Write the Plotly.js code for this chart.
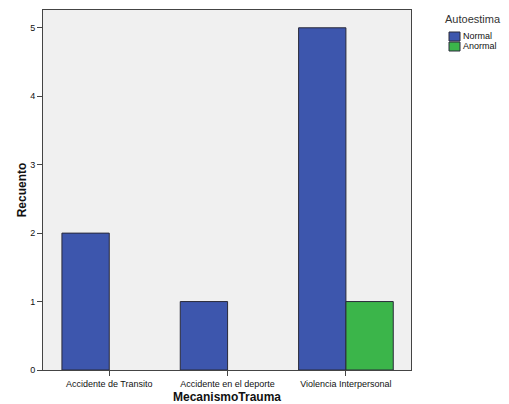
<!DOCTYPE html>
<html>
<head>
<meta charset="utf-8">
<script src="https://cdn.plot.ly/plotly-3.0.1.min.js"></script>
<style>html,body{margin:0;padding:0;background:#fff;}#chart{width:509px;height:404px;}</style>
</head>
<body>
<div id="chart"></div>
<script>
const categories = ["Accidente de Transito", "Accidente en el deporte", "Violencia Interpersonal"];
const normalValues = [2, 1, 5];
const anormalValues = [0, 0, 1];
const seriesNames = ["Normal", "Anormal"];
const seriesColors = ["#3d56ad", "#3bb54a"];
const legendTitle = "Autoestima";
const yTicks = [0, 1, 2, 3, 4, 5];

// zero counts draw no bar (as in the reference)
const noZero = v => (v === 0 ? null : v);

const traces = [
  {type: "bar", name: seriesNames[0], x: categories, y: normalValues.map(noZero),
   marker: {color: seriesColors[0], line: {color: "#2a2a3a", width: 1}}},
  {type: "bar", name: seriesNames[1], x: categories, y: anormalValues.map(noZero),
   marker: {color: seriesColors[1], line: {color: "#2a2a3a", width: 1}}}
];

// custom legend in paper/pixel terms (placed in the right margin)
const W = 509, H = 404, mL = 43, mR = 98, mT = 10, mB = 34;
const pw = W - mL - mR, ph = H - mT - mB;
const px = x => (x - mL) / pw;
const py = y => 1 - (y - mT) / ph;

const shapes = [];
const annotations = [
  {xref: "paper", yref: "paper", x: px(473), y: py(19), xanchor: "center", yanchor: "middle",
   text: legendTitle, showarrow: false, font: {size: 11, color: "#333"}}
];
seriesNames.forEach((n, i) => {
  const top = 32 + i * 10;
  shapes.push({type: "rect", xref: "paper", yref: "paper",
    x0: px(449), x1: px(460), y0: py(top + 9), y1: py(top),
    fillcolor: seriesColors[i], line: {color: "#2a2a3a", width: 1}});
  annotations.push({xref: "paper", yref: "paper", x: px(461), y: py(top + 4.5),
    xanchor: "left", yanchor: "middle", text: n, showarrow: false,
    font: {size: 9, color: "#111"}});
});

const layout = {
  width: W, height: H,
  margin: {l: mL, r: mR, t: mT, b: mB},
  paper_bgcolor: "#ffffff",
  plot_bgcolor: "#f0f0f0",
  font: {family: "Liberation Sans, Arial, sans-serif", size: 9, color: "#222"},
  barmode: "group", bargap: 0.2, bargroupgap: 0,
  showlegend: false,
  shapes: shapes,
  annotations: annotations,
  xaxis: {type: "category", range: [-0.56, 2.55],
    showline: true, linecolor: "#444", linewidth: 1, mirror: true,
    ticks: "outside", ticklen: 5, tickcolor: "#444",
    showgrid: false, zeroline: false,
    tickfont: {size: 9, color: "#111"},
    title: {text: "MecanismoTrauma", font: {size: 12, color: "#111", weight: "bold"}, standoff: 4}},
  yaxis: {range: [0, 5.26], tickvals: yTicks,
    showline: true, linecolor: "#444", linewidth: 1, mirror: true,
    ticks: "outside", ticklen: 5, tickcolor: "#444",
    showgrid: false, zeroline: false, automargin: true,
    tickfont: {size: 9, color: "#111"},
    title: {text: "Recuento", font: {size: 12, color: "#111", weight: "bold"}, standoff: 0}}
};

Plotly.newPlot("chart", traces, layout, {displayModeBar: false, staticPlot: true});
</script>
</body>
</html>
